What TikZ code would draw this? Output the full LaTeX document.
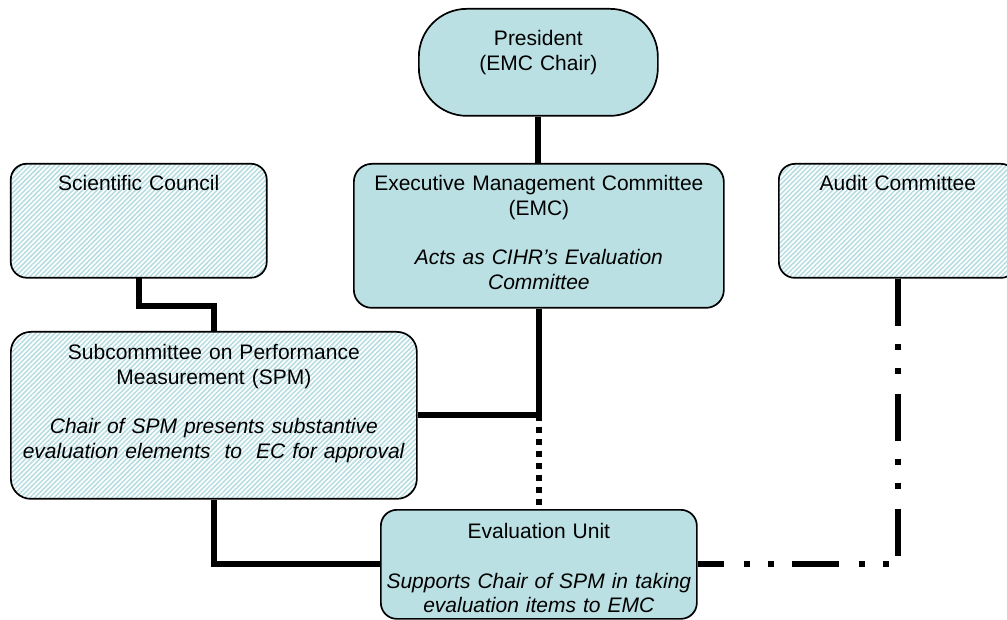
\documentclass[tikz,border=0pt]{standalone}
\usepackage{fontspec}
\setmainfont{Liberation Sans}
\usetikzlibrary{patterns.meta}
\definecolor{unitfill}{HTML}{BBE0E3}
\definecolor{hatchblue}{HTML}{B4DCE1}
\tikzset{
  orgbox/.style={draw, line width=1.7pt, inner sep=0pt, anchor=north west, align=center,
    font=\fontsize{21}{24.7}\selectfont},
  solidbox/.style={orgbox, fill=unitfill},
  hatchbox/.style={orgbox, pattern={Lines[angle=45,distance=3.4pt,line width=1.5pt]}, pattern color=hatchblue},
  link/.style={line width=6pt},
  dotlink/.style={line width=6pt, dash pattern=on 6pt off 6pt},
  auditlink/.style={line width=6pt, dash pattern=on 47pt off 18pt on 6pt off 18pt on 6pt off 20pt}
}
\begin{document}
\begin{tikzpicture}[x=1pt,y=1pt]
            \useasboundingbox (0,0) rectangle (1007,619);
            % boxes
            \node (pres) at (418, 611)[solidbox, rounded corners=48pt, text width=239pt, text height=37pt, text depth=70pt]{President\\(EMC Chair)};
            \node (emc) at (353, 456)[solidbox, rounded corners=18pt, text width=370pt, text height=27pt, text depth=117pt]{Executive Management Committee\\(EMC)\\[24.7pt]\textit{Acts as CIHR’s Evaluation}\\\textit{Committee}};
            \node (sci) at (10, 456)[hatchbox, rounded corners=16pt, text width=256pt, text height=27pt, text depth=87pt]{Scientific Council};
            \node (audit) at (778, 456)[hatchbox, rounded corners=16pt, text width=238pt, text height=27pt, text depth=87pt]{Audit Committee};
            \node (spm) at (10, 288)[hatchbox, rounded corners=20pt, text width=406pt, text height=28pt, text depth=139pt]{Subcommittee on Performance\\Measurement (SPM)\\[24.7pt]\textit{Chair of SPM presents substantive}\\\textit{evaluation elements~ to~ EC for approval}};
            \node (evu) at (380, 110)[solidbox, rounded corners=16pt, text width=316pt, text height=29pt, text depth=80pt]{Evaluation Unit\\[24.7pt]\textit{Supports Chair of SPM in taking}\\\textit{evaluation items to EMC}};
            % links
            \draw[link] (pres.south) -- (pres.south |- emc.north);
            \draw[link] (sci.south) -- ++(0,-28) -| (spm.north);
            \coordinate (split) at (emc.south |- spm.east);
            \draw[link] (emc.south) -- (split) -- (spm.east);
            \draw[dotlink] (split) -- (evu.north);
            \draw[link] (spm.south) |- (evu.west);
            \draw[auditlink] (audit.south) |- (evu.east);
        \end{tikzpicture}
\end{document}
